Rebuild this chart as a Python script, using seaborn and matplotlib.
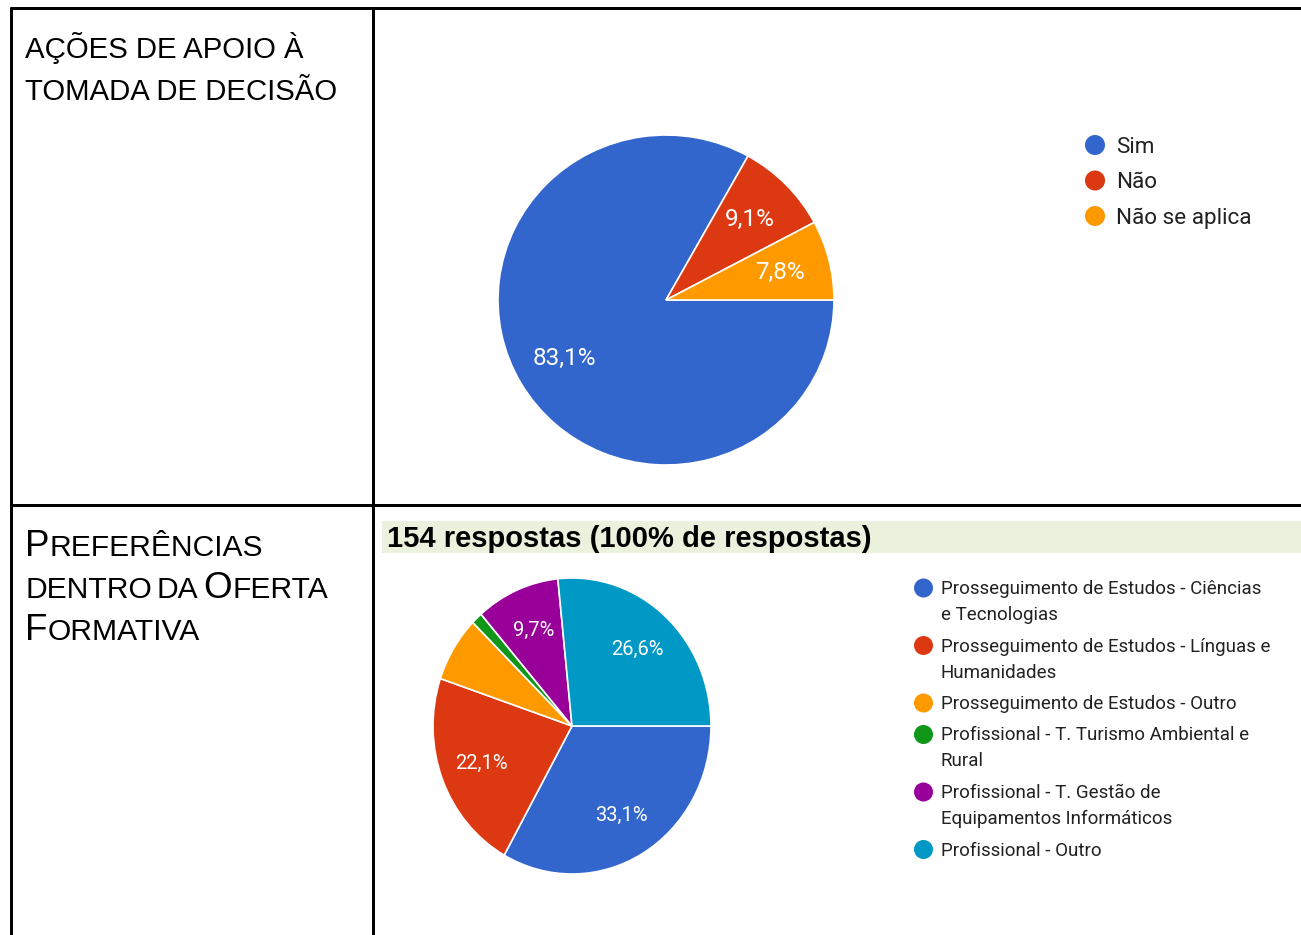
import numpy as np
import pandas as pd
import seaborn as sns
import matplotlib
matplotlib.use("Agg")
import matplotlib.pyplot as plt
from matplotlib.patches import Rectangle

sns.set_theme(style="white")
plt.rcParams['font.family'] = ['Roboto', 'DejaVu Sans']

W, H = 1301, 935

# ---------------- data ----------------
decisao_labels = ["Sim", "Não", "Não se aplica"]
decisao_counts = [128, 14, 12]          # 83,1% / 9,1% / 7,8%

oferta_labels = [
    "Prosseguimento de Estudos - Ciências\ne Tecnologias",
    "Prosseguimento de Estudos - Línguas e\nHumanidades",
    "Prosseguimento de Estudos - Outro",
    "Profissional - T. Turismo Ambiental e\nRural",
    "Profissional - T. Gestão de\nEquipamentos Informáticos",
    "Profissional - Outro",
]
oferta_counts = [51, 34, 11, 2, 15, 41]  # 154 respostas

google_colors = ["#3366CC", "#DC3912", "#FF9900", "#109618", "#990099", "#0099C6"]
header_text = "154 respostas (100% de respostas)"

# ---------------- figure ----------------
fig = plt.figure(figsize=(W / 100, H / 100), dpi=100)
fig.patch.set_facecolor("white")
canvas = fig.add_axes([0, 0, 1, 1])
canvas.set_xlim(0, W)
canvas.set_ylim(H, 0)
canvas.axis("off")

# table borders (3 px)
lw = 3 * 0.72
canvas.plot([10, W], [8, 8], color="black", lw=lw, solid_capstyle="butt")
canvas.plot([11, 11], [7, H], color="black", lw=lw, solid_capstyle="butt")
canvas.plot([372.5, 372.5], [7, H], color="black", lw=lw, solid_capstyle="butt")
canvas.plot([10, W], [505, 505], color="black", lw=lw, solid_capstyle="butt")

# header band
canvas.add_patch(Rectangle((382, 521), W - 382, 32, facecolor="#EAF1DD", edgecolor="none"))
canvas.text(387, 547, header_text, fontsize=21, fontweight="bold",
            family=["Liberation Sans", "DejaVu Sans"], va="baseline", ha="left", color="black")

# left column texts
lfam = ["Liberation Sans", "DejaVu Sans"]
canvas.text(25, 58, "AÇÕES DE APOIO À", fontsize=21.2, family=lfam, va="baseline", color="black")
canvas.text(25, 100, "TOMADA DE DECISÃO", fontsize=21.2, family=lfam, va="baseline", color="black")

fig.canvas.draw()
renderer = fig.canvas.get_renderer()


def text_width(s, size):
    t = canvas.text(0, 0, s, fontsize=size, family=lfam)
    w = t.get_window_extent(renderer=renderer).width
    t.remove()
    return w


def small_caps(x, y, runs):
    for s, size in runs:
        if s == " ":
            x += text_width("A A", size) - text_width("AA", size)
            continue
        t = canvas.text(x, y, s, fontsize=size, family=lfam, va="baseline", ha="left", color="black")
        x += t.get_window_extent(renderer=renderer).width


BIG, SMALL = 26.5, 21.6
small_caps(25, 556, [("P", BIG), ("REFERÊNCIAS", SMALL)])
small_caps(25, 598, [("DENTRO", SMALL), (" ", SMALL), ("DA", SMALL), (" ", SMALL), ("O", BIG), ("FERTA", SMALL)])
small_caps(25, 640, [("F", BIG), ("ORMATIVA", SMALL)])


# ---------------- pies ----------------
def pie_axes(cx, cy, rx, ry, m=1.04):
    ax = fig.add_axes([(cx - rx * m) / W, (H - cy - ry * m) / H, 2 * rx * m / W, 2 * ry * m / H])
    return ax


def fmt(p):
    return (f"{p:.1f}%".replace(".", ",")) if p >= 7.5 else ""


for (cx, cy, rx, ry, counts, fs) in [(666, 300, 168, 165, decisao_counts, 17.5),
                                     (572, 726, 139, 148, oferta_counts, 14.5)]:
    ax = pie_axes(cx, cy, rx, ry)
    cols = google_colors[:len(counts)]
    wedges, texts, autotexts = ax.pie(
        counts, colors=cols, startangle=0, counterclock=False,
        autopct=fmt, pctdistance=0.7,
        wedgeprops=dict(edgecolor="white", linewidth=1.2),
        textprops=dict(color="white", fontsize=fs),
    )
    ax.set_aspect("auto")
    ax.set_xlim(-1.04, 1.04)
    ax.set_ylim(-1.04, 1.04)
    ax.axis("off")

# ---------------- legends ----------------
# legend 1
leg1_base = [153, 188.5, 224]
for lab, col, yb in zip(decisao_labels, google_colors, leg1_base):
    canvas.scatter([1095], [yb - 8], s=20 ** 2 * 0.52, color=col, edgecolor="none")
    canvas.text(1116, yb, lab, fontsize=16.2, va="baseline", ha="left", color="#222222")

# legend 2
y = 594
for lab, col in zip(oferta_labels, google_colors):
    canvas.scatter([923.5], [y - 6], s=19 ** 2 * 0.52, color=col, edgecolor="none")
    lines = lab.split("\n")
    for i, ln in enumerate(lines):
        canvas.text(941, y + 26 * i, ln, fontsize=13.5, va="baseline", ha="left", color="#222222")
    y += 26 * (len(lines) - 1) + 31.5

fig.savefig("out.png", dpi=100, facecolor="white")
